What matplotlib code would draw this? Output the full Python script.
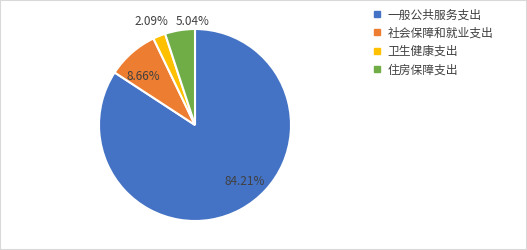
import matplotlib.pyplot as plt
from matplotlib.lines import Line2D
from matplotlib.patches import Rectangle

plt.rcParams['font.family'] = ['Noto Sans CJK SC', 'DejaVu Sans']

categories = ['一般公共服务支出', '社会保障和就业支出', '卫生健康支出', '住房保障支出']
shares = [84.21, 8.66, 2.09, 5.04]
colors = ['#4472C4', '#ED7D31', '#FFC000', '#70AD47']
# label anchor points in pie units (radius = 1)
label_pos = [(0.52, -0.59), (-0.54, 0.50), (-0.45, 1.08), (-0.03, 1.08)]

fig = plt.figure(figsize=(5.27, 2.5), dpi=100)
fig.patches.append(Rectangle((0, 0), 1, 1, transform=fig.transFigure,
                             fill=False, edgecolor='#D9D9D9', linewidth=1.5))

cx, cy, r = 195, 125, 96
ax = fig.add_axes([(cx - r) / 527, (250 - cy - r) / 250, 2 * r / 527, 2 * r / 250])
ax.pie(shares, colors=colors, startangle=90, counterclock=False,
       wedgeprops=dict(edgecolor='white', linewidth=1.5))
ax.set_xlim(-1, 1)
ax.set_ylim(-1, 1)
ax.set_aspect('equal')
ax.axis('off')

for val, (x, y) in zip(shares, label_pos):
    ax.text(x, y, f'{val:.2f}%', ha='center', va='center', fontsize=8.5,
            color='#404040', clip_on=False)

handles = [Line2D([], [], marker='s', linestyle='none', markersize=5,
                  markerfacecolor=c, markeredgecolor=c) for c in colors]
fig.legend(handles, categories, loc='upper left', bbox_to_anchor=(364 / 527, 1.0),
           frameon=False, fontsize=8.5, labelcolor='#404040', handlelength=0.8,
           handletextpad=0.5, labelspacing=0.45, borderaxespad=0.3)

fig.savefig('out.png', dpi=100)
